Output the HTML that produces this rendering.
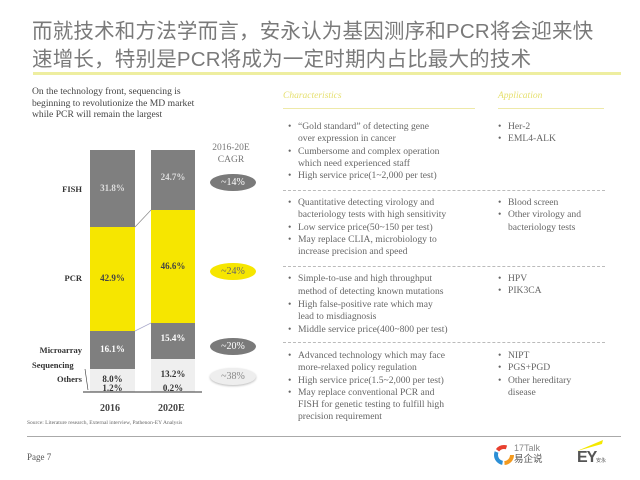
<!DOCTYPE html>
<html><head><meta charset="utf-8"><style>
*{margin:0;padding:0;box-sizing:border-box}
body{width:640px;height:480px;background:#fff;position:relative;overflow:hidden;font-family:"Liberation Serif",serif;color:#555}
.a{position:absolute;white-space:nowrap}
.t{font-family:"Liberation Sans","Noto Sans CJK SC",sans-serif;font-size:20.5px;color:#7a7a7a;left:32px;line-height:26px;letter-spacing:0.2px}
.seg{position:absolute}
.g{background:#7f7f7f}.y{background:#f6e600}.l{background:#efefef}
.v{position:absolute;width:100%;text-align:center;font-size:9px;font-weight:bold}
.lab{font-size:8.5px;font-weight:bold;color:#333;text-align:right}
.el{position:absolute;left:210px;width:46px;height:17px;border-radius:50%;text-align:center;font-size:10px;line-height:17px;color:#fff}
.tx{position:absolute;font-size:9.6px;line-height:12.3px;color:#666}
.tx div{position:relative;padding-left:10px}
.tx div.b:before{content:"•";position:absolute;left:0}
.dl{position:absolute;left:283px;width:322px;border-top:1px dashed #bbb}
</style></head><body>
<div class="a t" style="top:19px">而就技术和方法学而言，安永认为基因测序和PCR将会迎来快</div>
<div class="a t" style="top:47px">速增长，特别是PCR将成为一定时期内占比最大的技术</div>
<div class="a" style="left:33px;top:72px;width:588px;height:3px;background:#eeeea0"></div>

<div class="a" style="left:32px;top:86px;font-size:9.6px;line-height:11.5px;color:#444">On the technology front, sequencing is<br>beginning to revolutionize the MD market<br>while PCR will remain the largest</div>

<div class="a" style="left:205px;top:142px;font-size:9.5px;line-height:12px;text-align:center;color:#777;width:52px">2016-20E<br>CAGR</div>

<div class="seg g" style="left:90px;top:150px;width:45px;height:77px"><div class="v" style="top:33px;color:#ddd">31.8%</div></div>
<div class="seg y" style="left:90px;top:227px;width:45px;height:104px"><div class="v" style="top:46px;color:#444">42.9%</div></div>
<div class="seg g" style="left:90px;top:331px;width:45px;height:38px"><div class="v" style="top:13px;color:#fff">16.1%</div></div>
<div class="seg l" style="left:90px;top:369px;width:45px;height:23px"><div class="v" style="top:5px;color:#333">8.0%</div><div class="v" style="top:14px;color:#333">1.2%</div></div>

<div class="seg g" style="left:151px;top:150px;width:44px;height:60px"><div class="v" style="top:22px;color:#ddd">24.7%</div></div>
<div class="seg y" style="left:151px;top:210px;width:44px;height:113px"><div class="v" style="top:51px;color:#444">46.6%</div></div>
<div class="seg g" style="left:151px;top:323px;width:44px;height:36px"><div class="v" style="top:10px;color:#fff">15.4%</div></div>
<div class="seg l" style="left:151px;top:359px;width:44px;height:33px"><div class="v" style="top:10px;color:#333">13.2%</div><div class="v" style="top:24px;color:#333">0.2%</div></div>
<svg class="a" style="left:0;top:0" width="640" height="480"><line x1="135" y1="227" x2="151" y2="210" stroke="#888" stroke-width="0.7"/><line x1="135" y1="331" x2="151" y2="323" stroke="#aac" stroke-width="0.7"/><line x1="83" y1="392" x2="202" y2="392" stroke="#333" stroke-width="1"/><line x1="85" y1="369" x2="88" y2="390" stroke="#333" stroke-width="0.6"/></svg>

<div class="a lab" style="left:40px;top:184px;width:42px">FISH</div>
<div class="a lab" style="left:40px;top:273px;width:42px">PCR</div>
<div class="a lab" style="left:20px;top:345px;width:62px">Microarray</div>
<div class="a lab" style="left:32px;top:360px;text-align:left">Sequencing</div>
<div class="a lab" style="left:40px;top:374px;width:42px">Others</div>
<div class="a" style="left:100px;top:403px;font-size:10px;font-weight:bold;color:#444">2016</div>
<div class="a" style="left:158px;top:403px;font-size:10px;font-weight:bold;color:#444">2020E</div>

<div class="el" style="top:174px;background:#7a7a7a">~14%</div>
<div class="el" style="top:263px;background:#f6e600;color:#666">~24%</div>
<div class="el" style="top:338px;background:#7a7a7a">~20%</div>
<div class="el" style="top:368px;background:#eee;color:#888;box-shadow:0 1px 2px #bbb">~38%</div>

<div class="a" style="left:283px;top:91px;font-size:9.5px;font-style:italic;color:#e6e070">Characteristics</div>
<div class="a" style="left:283px;top:108px;width:192px;height:1px;background:#eee9a8"></div>
<div class="a" style="left:498px;top:91px;font-size:9.5px;font-style:italic;color:#e6e070">Application</div>
<div class="a" style="left:498px;top:108px;width:106px;height:1px;background:#eee9a8"></div>

<div class="tx" style="left:288px;top:121px"><div class="b">“Gold standard” of detecting gene</div><div>over expression in cancer</div><div class="b">Cumbersome and complex operation</div><div>which need experienced staff</div><div class="b">High service price(1~2,000 per test)</div></div>
<div class="tx" style="left:498px;top:121px"><div class="b">Her-2</div><div class="b">EML4-ALK</div></div>
<div class="dl" style="top:190px"></div>
<div class="tx" style="left:288px;top:197px"><div class="b">Quantitative detecting virology and</div><div>bacteriology tests with high sensitivity</div><div class="b">Low service price(50~150 per test)</div><div class="b">May replace CLIA, microbiology to</div><div>increase precision and speed</div></div>
<div class="tx" style="left:498px;top:197px"><div class="b">Blood screen</div><div class="b">Other virology and</div><div>bacteriology tests</div></div>
<div class="dl" style="top:266px"></div>
<div class="tx" style="left:288px;top:273px;line-height:12.8px"><div class="b">Simple-to-use and high throughput</div><div>method of detecting known mutations</div><div class="b">High false-positive rate which may</div><div>lead to misdiagnosis</div><div class="b">Middle service price(400~800 per test)</div></div>
<div class="tx" style="left:498px;top:273px"><div class="b">HPV</div><div class="b">PIK3CA</div></div>
<div class="dl" style="top:342px"></div>
<div class="tx" style="left:288px;top:350px"><div class="b">Advanced technology which may face</div><div>more-relaxed policy regulation</div><div class="b">High service price(1.5~2,000 per test)</div><div class="b">May replace conventional PCR and</div><div>FISH for genetic testing to fulfill high</div><div>precision requirement</div></div>
<div class="tx" style="left:498px;top:350px"><div class="b">NIPT</div><div class="b">PGS+PGD</div><div class="b">Other hereditary</div><div>disease</div></div>

<div class="a" style="left:27px;top:420px;font-size:5.5px;color:#666">Source: Literature research, External interview, Pathenon-EY Analysis</div>
<div class="a" style="left:27px;top:436px;width:594px;height:1px;background:#aaa"></div>
<div class="a" style="left:27px;top:452px;font-size:9px;color:#555">Page 7</div>

<svg class="a" style="left:493px;top:443px" width="22" height="24"><circle cx="11" cy="12" r="8" fill="none" stroke="#f39a1f" stroke-width="4" stroke-dasharray="12 38"/><circle cx="11" cy="12" r="8" fill="none" stroke="#2c8fd6" stroke-width="4" stroke-dasharray="0 14 14 40"/><circle cx="11" cy="12" r="8" fill="none" stroke="#e8402f" stroke-width="4" stroke-dasharray="0 30 10 40"/></svg>
<div class="a" style="left:514px;top:443px;font-family:'Liberation Sans',sans-serif;font-size:9px;color:#888;line-height:10px">17Talk</div>
<div class="a" style="left:514px;top:454px;font-family:'Liberation Sans','Noto Sans CJK SC',sans-serif;font-size:9.5px;color:#555;line-height:11px">易企说</div>
<svg class="a" style="left:575px;top:440px" width="30" height="12"><polygon points="2,11 28,0 27,4" fill="#f4e800"/></svg>
<div class="a" style="left:577px;top:449px;font-family:'Liberation Sans',sans-serif;font-weight:bold;font-size:16px;color:#555;letter-spacing:-1px">EY</div>
<div class="a" style="left:596px;top:457px;font-family:'Noto Sans CJK SC',sans-serif;font-size:5px;color:#555">安永</div>
</body></html>
